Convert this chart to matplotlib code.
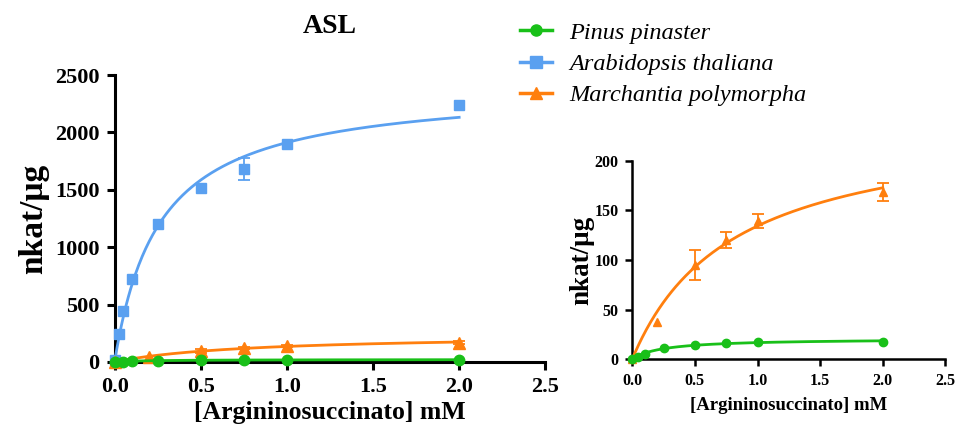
import numpy as np
import matplotlib
matplotlib.use("Agg")
import matplotlib.pyplot as plt
from matplotlib.lines import Line2D

plt.rcParams['font.family'] = ['Liberation Serif', 'DejaVu Serif']

# ---------------- data ----------------
series_names = ["Pinus pinaster", "Arabidopsis thaliana", "Marchantia polymorpha"]
colors = ["#19c019", "#5aa0f0", "#ff7f0e"]
markers = ["o", "s", "^"]

pinus_x = [0.0, 0.05, 0.1, 0.25, 0.5, 0.75, 1.0, 2.0]
pinus_y = [0.0, 2.5, 5.5, 11.0, 14.5, 16.5, 17.0, 17.5]
pinus_err = [0, 0, 0, 0, 0, 0, 0, 0]

arab_x = [0.0, 0.025, 0.05, 0.1, 0.25, 0.5, 0.75, 1.0, 2.0]
arab_y = [15, 245, 445, 723, 1205, 1515, 1685, 1900, 2240]
arab_err = [0, 0, 0, 0, 0, 0, 95, 0, 0]

march_x = [0.0, 0.2, 0.5, 0.75, 1.0, 2.0]
march_y = [0.0, 38.0, 95.0, 120.0, 139.5, 168.5]
march_err = [0, 0, 15.5, 8, 7, 9]

x_ticks = [0.0, 0.5, 1.0, 1.5, 2.0, 2.5]
left_yticks = [0, 500, 1000, 1500, 2000, 2500]
right_yticks = [0, 50, 100, 150, 200]


def mm_fit(x, y):
    """Least-squares Michaelis-Menten fit (grid over Km, closed-form Vmax)."""
    x = np.asarray(x, float)
    y = np.asarray(y, float)
    best = None
    for km in np.linspace(0.005, 5, 5000):
        f = x / (km + x)
        vmax = np.sum(y * f) / np.sum(f * f)
        sse = np.sum((y - vmax * f) ** 2)
        if best is None or sse < best[0]:
            best = (sse, vmax, km)
    return best[1], best[2]


xs = [pinus_x, arab_x, march_x]
ys = [pinus_y, arab_y, march_y]
errs = [pinus_err, arab_err, march_err]
fits = [mm_fit(x, y) for x, y in zip(xs, ys)]
xc = np.linspace(0, 2.0, 300)

fig = plt.figure(figsize=(9.55, 4.37), dpi=100)
axL = fig.add_axes([0.120, 0.172, 0.451, 0.656])
axR = fig.add_axes([0.662, 0.178, 0.328, 0.454])


def style_axis(ax, tick_fs, lw):
    for s in ["top", "right"]:
        ax.spines[s].set_visible(False)
    for s in ["left", "bottom"]:
        ax.spines[s].set_linewidth(lw)
    ax.tick_params(direction="out", length=6, width=lw, labelsize=tick_fs, pad=5)
    for lab in ax.get_xticklabels() + ax.get_yticklabels():
        lab.set_fontweight("bold")
        lab.set_fontsize(tick_fs)


def draw(ax, idxs, ms, zorders):
    for i in idxs:
        vmax, km = fits[i]
        ax.plot(xc, vmax * xc / (km + xc), color=colors[i], lw=2, zorder=zorders[i], clip_on=False)
        e = np.asarray(errs[i], float)
        mask = e > 0
        if mask.any():
            ax.errorbar(np.asarray(xs[i])[mask], np.asarray(ys[i])[mask], yerr=e[mask],
                        fmt="none", ecolor=colors[i], elinewidth=1.3, capsize=4, capthick=1.3,
                        zorder=zorders[i], clip_on=False)
        ax.plot(xs[i], ys[i], linestyle="none", marker=markers[i], color=colors[i],
                markersize=ms[i], zorder=zorders[i] + 0.5, clip_on=False)


# left panel
draw(axL, [1, 2, 0], ms=[7.5, 7, 8], zorders={0: 5, 1: 3, 2: 4})
axL.set_xlim(0, 2.5)
axL.set_ylim(0, 2500)
axL.set_xticks(x_ticks)
axL.set_xticklabels([f"{v:.1f}" for v in x_ticks])
axL.set_yticks(left_yticks)
style_axis(axL, 16, 2.2)
axL.set_xlabel("[Argininosuccinato] mM", fontsize=18.5, fontweight="bold", labelpad=3)
axL.set_ylabel("nkat/\u03bcg", fontsize=24, fontweight="bold", labelpad=4)
axL.set_title("ASL", fontsize=20, fontweight="bold", pad=30)

# right panel
draw(axR, [2, 0], ms=[6, 6, 6], zorders={0: 4, 2: 3})
axR.set_xlim(0, 2.5)
axR.set_ylim(0, 200)
axR.set_xticks(x_ticks)
axR.set_xticklabels([f"{v:.1f}" for v in x_ticks])
axR.set_yticks(right_yticks)
style_axis(axR, 11.5, 1.8)
axR.tick_params(length=5)
axR.set_xlabel("[Argininosuccinato] mM", fontsize=13.5, fontweight="bold", labelpad=6)
axR.set_ylabel("nkat/\u03bcg", fontsize=19.5, fontweight="bold", labelpad=0)

# legend
handles = [Line2D([0], [0], color=c, marker=m, lw=2.5, markersize=8) for c, m in zip(colors, markers)]
fig.legend(handles, series_names, loc="upper left", bbox_to_anchor=(0.522, 1.0),
           frameon=False, prop={"style": "italic", "size": 17.5, "family": "Liberation Serif"},
           handlelength=1.3, handletextpad=0.7, labelspacing=0.38)

fig.savefig("out.png", dpi=100)
